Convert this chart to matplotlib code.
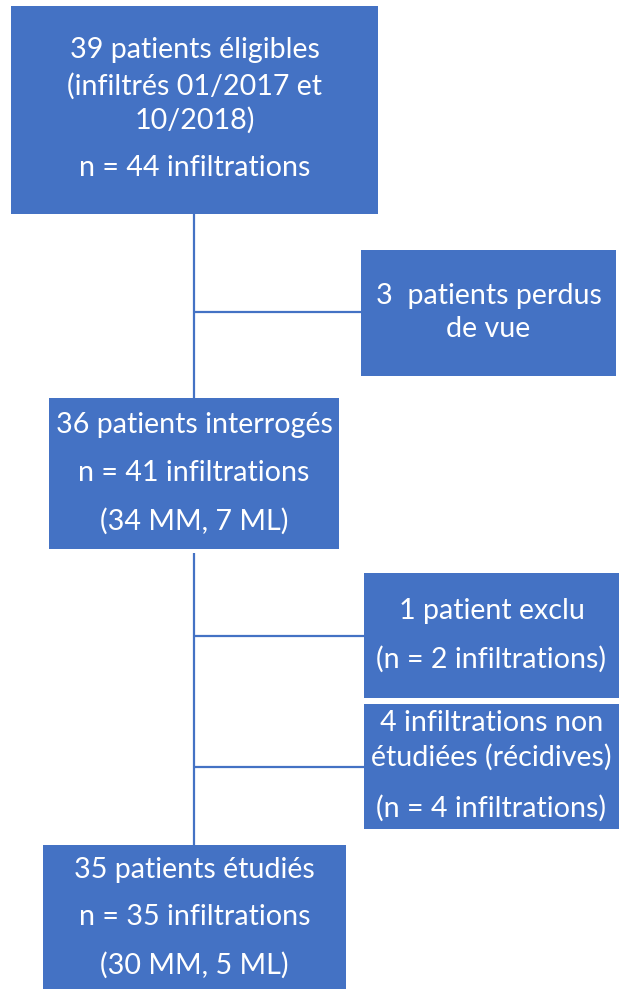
import matplotlib
matplotlib.use("Agg")
import matplotlib.pyplot as plt
from matplotlib.patches import Rectangle

# ---- content ----
box_eligible = ["39 patients éligibles", "(infiltrés 01/2017 et", "10/2018)", "n = 44 infiltrations"]
box_lost = ["3  patients perdus", "de vue"]
box_interviewed = ["36 patients interrogés", "n = 41 infiltrations", "(34 MM, 7 ML)"]
box_excluded = ["1 patient exclu", "(n = 2 infiltrations)"]
box_recid = ["4 infiltrations non", "étudiées (récidives)", "(n = 4 infiltrations)"]
box_studied = ["35 patients étudiés", "n = 35 infiltrations", "(30 MM, 5 ML)"]

# ---- layout (pixel coordinates, y downward) ----
W, H = 619, 989
BLUE = "#4472C4"
boxes = [
    # (x0, y0, x1, y1, lines, line_y)
    (11, 6, 378, 214, box_eligible, [50, 86, 120, 168]),
    (361, 250, 616, 376, box_lost, [296, 329]),
    (49, 398, 339, 549, box_interviewed, [425, 473, 521]),
    (364, 573, 619, 698, box_excluded, [611, 659]),
    (364, 704, 619, 829, box_recid, [723, 757, 808]),
    (43, 845, 346, 995, box_studied, [870, 917, 965]),
]
spine_x = 194
segments = [
    ((spine_x, 214), (spine_x, 398)),
    ((spine_x, 312), (361, 312)),
    ((spine_x, 553), (spine_x, 845)),
    ((spine_x, 636), (364, 636)),
    ((spine_x, 767), (364, 767)),
]

fig = plt.figure(figsize=(W / 100, H / 100), dpi=100)
ax = fig.add_axes([0, 0, 1, 1])
ax.set_xlim(0, W)
ax.set_ylim(H, 0)
ax.axis("off")

for (p0, p1) in segments:
    ax.plot([p0[0], p1[0]], [p0[1], p1[1]], color=BLUE, lw=1.6, solid_capstyle="butt", zorder=1)

for x0, y0, x1, y1, lines, ys in boxes:
    ax.add_patch(Rectangle((x0, y0), x1 - x0, y1 - y0, facecolor=BLUE, edgecolor="none", zorder=2))
    cx = (x0 + x1) / 2
    for txt, ty in zip(lines, ys):
        ax.text(cx, ty, txt, ha="center", va="center", color="white",
                fontsize=20.6, family=["Lato", "DejaVu Sans"], zorder=3)

fig.savefig("out.png", dpi=100)
